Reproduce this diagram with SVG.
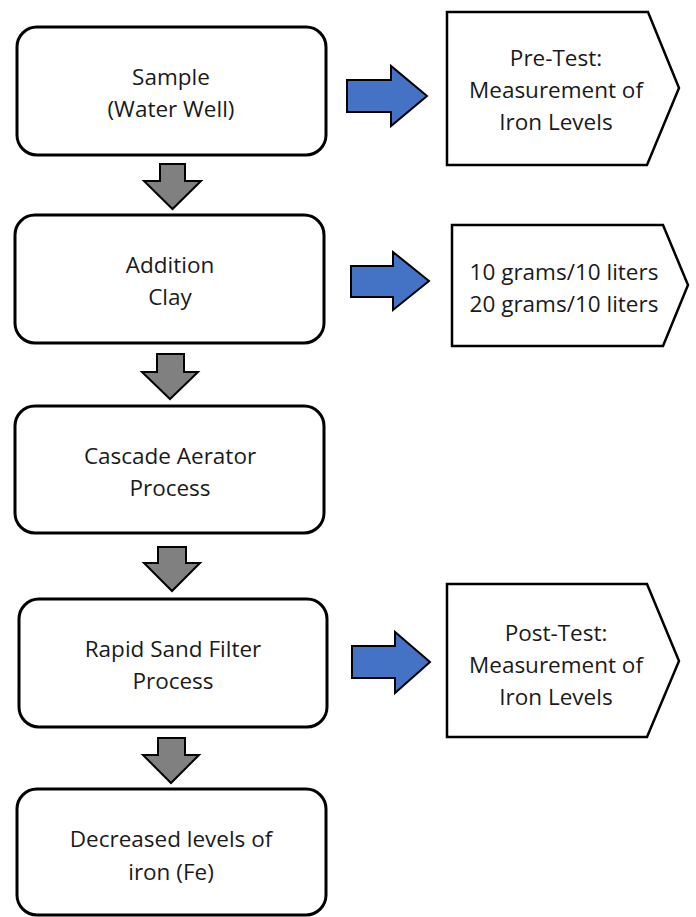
<svg xmlns="http://www.w3.org/2000/svg" width="696" height="917" viewBox="0 0 696 917">
<style>
.box{fill:#fff;stroke:#000;stroke-width:3}
.pent{fill:#fff;stroke:#000;stroke-width:2.5;stroke-linejoin:miter}
.ga{fill:#808080;stroke:#000;stroke-width:2}
.ba{fill:#4472C4;stroke:#000;stroke-width:2}
text{font-family:"Open Sans","Noto Sans",sans-serif;font-size:22.5px;fill:#1a1a1a;text-anchor:middle}
</style>
<rect width="696" height="917" fill="#fff"/>
<g id="connectors">
<path class="ga" d="M160,164 H185 V181 H201 L172.5,209 L144,181 H160 Z"/>
<path class="ga" d="M157,354 H184 V372 H198 L170,399 L142,372 H157 Z"/>
<path class="ga" d="M158,547 H186 V563 H200 L172,591 L144,563 H158 Z"/>
<path class="ga" d="M158,738 H185 V755 H199 L171,783 L143,755 H158 Z"/>
<path class="ba" d="M347,80 H391 V66 L427,96 L391,126 V112 H347 Z"/>
<path class="ba" d="M351,266 H393 V252 L429,281 L393,310 V297 H351 Z"/>
<path class="ba" d="M352,646 H395 V632 L430,662 L395,693 V678 H352 Z"/>
</g>
<g id="sample">
<rect class="box" x="17" y="27" width="309" height="128" rx="20"/>
<text x="171" y="85">Sample</text>
<text x="171" y="117">(Water Well)</text>
</g>
<g id="addition">
<rect class="box" x="15" y="215" width="309" height="128" rx="20"/>
<text x="170" y="273">Addition</text>
<text x="170" y="305">Clay</text>
</g>
<g id="cascade">
<rect class="box" x="15" y="406" width="309" height="127" rx="20"/>
<text x="170" y="464">Cascade Aerator</text>
<text x="170" y="496">Process</text>
</g>
<g id="rapid">
<rect class="box" x="19" y="599" width="308" height="128" rx="20"/>
<text x="173" y="657">Rapid Sand Filter</text>
<text x="173" y="689">Process</text>
</g>
<g id="decreased">
<rect class="box" x="17" y="789" width="309" height="126" rx="20"/>
<text x="171" y="847">Decreased levels of</text>
<text x="171" y="880">iron (Fe)</text>
</g>
<g id="pretest">
<path class="pent" d="M447,12 H648 L679,88 L647,165 H447 Z"/>
<text x="556" y="66">Pre-Test:</text>
<text x="556" y="98">Measurement of</text>
<text x="556" y="130">Iron Levels</text>
</g>
<g id="dosage">
<path class="pent" d="M452,225 H663 L688,285 L663,346 H452 Z"/>
<text x="564" y="280">10 grams/10 liters</text>
<text x="564" y="312">20 grams/10 liters</text>
</g>
<g id="posttest">
<path class="pent" d="M447,584 H647 L679,661 L647,737 H447 Z"/>
<text x="556" y="641">Post-Test:</text>
<text x="556" y="673">Measurement of</text>
<text x="556" y="705">Iron Levels</text>
</g>
</svg>
